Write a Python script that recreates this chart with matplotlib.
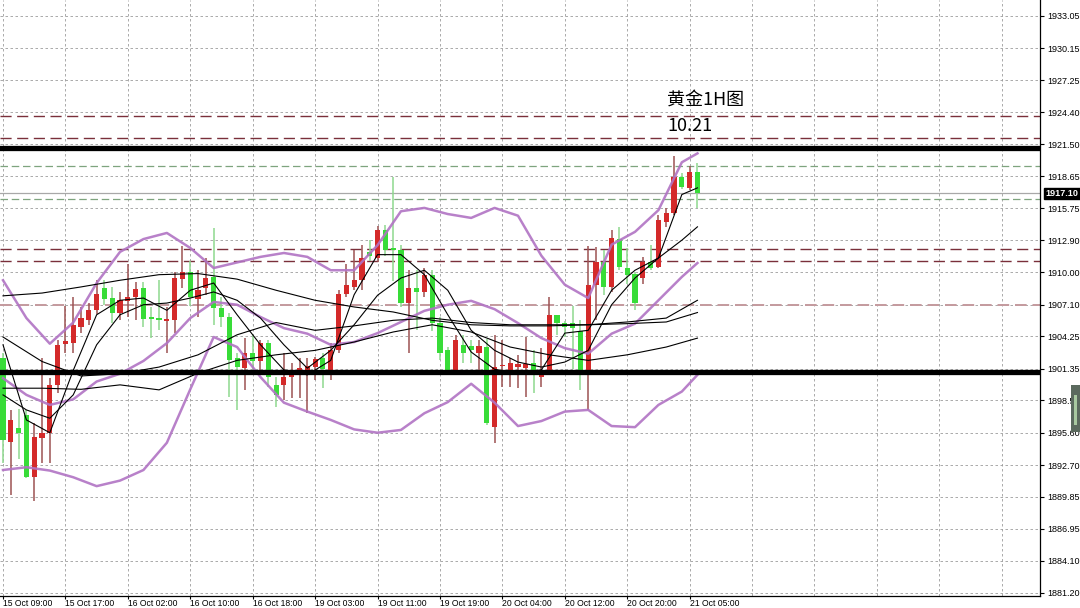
import matplotlib
matplotlib.use("Agg")
import matplotlib.pyplot as plt
from matplotlib.patches import Rectangle

# hourly candles, index 0 = 15 Oct 09:00
opens = [1902.3, 1894.8, 1896.0, 1897.2, 1891.6, 1895.1, 1895.6, 1899.9, 1903.6, 1903.7,
         1905.1, 1905.7, 1906.6, 1908.6, 1907.7, 1906.4, 1907.4, 1907.8, 1908.6, 1906.0,
         1905.9, 1905.6, 1905.7, 1909.4, 1910.0, 1907.6, 1908.6, 1909.6, 1906.8, 1906.0,
         1902.3, 1901.4, 1902.8, 1902.0, 1903.7, 1899.9, 1899.9, 1900.6, 1900.9, 1901.1,
         1901.5, 1902.3, 1901.2, 1903.0, 1908.1, 1908.7, 1909.3, 1911.8, 1911.3, 1913.8,
         1912.2, 1912.0, 1907.3, 1908.6, 1908.2, 1909.8, 1905.5, 1903.0, 1901.2, 1903.5,
         1903.4, 1902.8, 1903.3, 1896.1, 1901.6, 1901.2, 1901.5, 1901.4, 1901.9, 1900.6,
         1901.2, 1906.2, 1905.5, 1905.5, 1904.7, 1901.2, 1908.9, 1910.9, 1908.7, 1913.0,
         1910.4, 1909.9, 1909.5, 1910.9, 1910.5, 1914.5, 1915.3, 1918.6, 1917.6, 1919.0]
highs = [1902.8, 1897.6, 1897.7, 1897.6, 1896.5, 1902.3, 1900.5, 1903.9, 1907.0, 1907.8,
         1906.9, 1907.3, 1909.3, 1909.3, 1908.7, 1908.2, 1910.8, 1909.1, 1909.1, 1906.9,
         1909.3, 1906.9, 1910.0, 1912.4, 1911.0, 1910.2, 1911.3, 1914.0, 1907.8, 1906.4,
         1902.8, 1904.1, 1904.4, 1903.9, 1903.9, 1900.6, 1902.8, 1901.9, 1902.3, 1902.3,
         1902.4, 1902.8, 1903.7, 1908.4, 1910.8, 1912.0, 1912.5, 1912.9, 1914.2, 1914.3,
         1918.6, 1912.5, 1910.2, 1910.2, 1910.4, 1910.2, 1906.0, 1903.3, 1904.4, 1904.4,
         1903.9, 1903.9, 1904.0, 1904.4, 1903.9, 1902.3, 1902.6, 1904.2, 1903.0, 1903.2,
         1907.8, 1906.2, 1905.6, 1907.0, 1905.7, 1912.4, 1912.3, 1912.0, 1913.8, 1914.1,
         1912.2, 1910.0, 1911.4, 1912.5, 1915.2, 1915.8, 1920.5, 1918.9, 1919.6, 1919.8]
lows = [1892.9, 1890.0, 1893.2, 1891.5, 1889.5, 1892.9, 1892.9, 1899.2, 1902.8, 1902.8,
        1904.6, 1905.3, 1906.3, 1907.1, 1905.5, 1905.7, 1906.0, 1905.7, 1905.1, 1904.1,
        1904.8, 1902.8, 1904.6, 1908.6, 1907.0, 1906.0, 1908.0, 1905.3, 1905.1, 1898.8,
        1897.6, 1899.4, 1901.0, 1901.2, 1899.7, 1897.9, 1898.5, 1898.7, 1898.7, 1897.4,
        1900.3, 1899.6, 1900.3, 1902.8, 1907.8, 1908.4, 1908.4, 1911.0, 1910.9, 1911.5,
        1909.2, 1906.9, 1902.8, 1904.8, 1907.8, 1904.7, 1902.1, 1900.8, 1900.8, 1901.9,
        1901.9, 1900.9, 1896.3, 1894.7, 1899.7, 1899.7, 1899.6, 1898.8, 1899.2, 1899.7,
        1900.9, 1904.4, 1904.2, 1901.3, 1899.4, 1897.6, 1905.7, 1908.0, 1908.2, 1910.2,
        1909.0, 1906.6, 1909.0, 1910.2, 1910.4, 1914.1, 1915.2, 1917.5, 1917.4, 1915.8]
closes = [1894.95, 1896.7, 1895.6, 1891.6, 1895.2, 1895.6, 1899.9, 1903.5, 1903.8, 1905.3,
          1905.9, 1906.6, 1908.1, 1907.6, 1906.4, 1907.5, 1907.8, 1908.5, 1905.8, 1905.8,
          1905.7, 1905.8, 1909.5, 1910.0, 1907.8, 1908.4, 1909.5, 1906.8, 1906.0, 1902.1,
          1901.5, 1902.8, 1902.0, 1903.7, 1900.6, 1899.0, 1900.6, 1900.9, 1901.4, 1901.6,
          1902.2, 1901.3, 1903.0, 1908.1, 1908.9, 1909.3, 1911.3, 1911.5, 1913.8, 1912.0,
          1912.0, 1907.3, 1908.6, 1908.2, 1909.8, 1905.5, 1902.8, 1901.2, 1903.9, 1902.8,
          1903.0, 1903.4, 1896.5, 1901.5, 1901.7, 1901.9, 1901.8, 1901.8, 1901.2, 1901.2,
          1906.2, 1905.5, 1905.1, 1905.0, 1901.2, 1908.9, 1910.9, 1908.7, 1913.1, 1910.5,
          1909.8, 1907.3, 1910.9, 1910.4, 1914.7, 1915.3, 1918.6, 1917.7, 1919.0, 1917.1]

# Bollinger bands and fast MAs, read every 3 bars
line_idx = [0, 3, 6, 9, 12, 15, 18, 21, 24, 27, 30, 33, 36, 39, 42, 45,
            48, 51, 54, 57, 60, 63, 66, 69, 72, 75, 78, 81, 84, 87, 89]
bb_upper = [1909.3, 1905.9, 1903.6, 1905.5, 1909.05, 1911.85, 1913.0, 1913.55, 1912.2, 1910.4,
            1910.9, 1911.4, 1911.75, 1911.4, 1910.2, 1910.2, 1912.45, 1915.5, 1915.8, 1915.25,
            1914.9, 1915.8, 1915.1, 1911.5, 1908.9, 1907.7, 1912.5, 1913.65, 1915.6, 1919.9, 1920.7]
bb_mid = [1900.5, 1899.0, 1898.1, 1898.6, 1900.2, 1900.9, 1902.05, 1903.65, 1905.9, 1907.35,
          1907.1, 1906.0, 1905.0, 1904.5, 1903.5, 1903.75, 1904.55, 1905.55, 1906.55, 1907.1,
          1907.45, 1906.7, 1905.45, 1904.1, 1903.2, 1902.7, 1904.5, 1905.4, 1907.5, 1909.6, 1910.85]
bb_lower = [1892.25, 1892.5, 1892.2, 1891.6, 1890.8, 1891.3, 1892.25, 1894.7, 1899.5, 1904.2,
            1903.3, 1900.6, 1898.3, 1897.5, 1896.75, 1895.9, 1895.6, 1895.85, 1897.35, 1898.35,
            1900.0, 1898.3, 1896.2, 1896.65, 1897.5, 1897.65, 1896.2, 1896.1, 1898.1, 1899.3, 1900.8]
ma_fast = [1903.5, 1896.75, 1895.6, 1901.2, 1906.2, 1907.5, 1907.7, 1906.6, 1908.4, 1909.05,
           1906.2, 1903.5, 1901.25, 1900.8, 1902.1, 1908.0, 1911.6, 1911.6, 1909.8, 1906.2,
           1902.85, 1901.3, 1900.95, 1901.25, 1904.55, 1904.8, 1908.4, 1910.2, 1911.3, 1917.0, 1917.6]
ma_mid = [1899.0, 1897.65, 1896.9, 1899.0, 1903.5, 1906.2, 1907.1, 1907.25, 1907.7, 1908.25,
          1907.5, 1905.9, 1903.5, 1901.4, 1903.0, 1905.3, 1907.95, 1909.5, 1910.2, 1908.4,
          1904.8, 1903.0, 1901.95, 1901.5, 1901.95, 1903.0, 1907.1, 1909.5, 1911.3, 1912.9, 1914.1]

# slower MAs, read every 5 bars
slow_idx = [0, 5, 10, 15, 20, 25, 30, 35, 40, 45, 50, 55, 60, 65, 70, 75, 80, 85, 89]
ma_slow_a = [1907.9, 1908.15, 1908.7, 1909.3, 1909.8, 1909.9, 1909.4, 1908.4, 1907.5, 1906.9,
             1906.45, 1905.7, 1905.3, 1905.2, 1905.2, 1905.3, 1905.4, 1905.55, 1906.4]
ma_slow_b = [1904.2, 1902.0, 1900.7, 1900.9, 1901.5, 1902.6, 1904.4, 1905.5, 1904.8, 1905.2,
             1905.7, 1905.9, 1905.5, 1905.3, 1905.3, 1905.3, 1905.55, 1905.9, 1907.5]
ma_slow_c = [1899.6, 1899.6, 1899.5, 1899.9, 1899.45, 1900.95, 1902.1, 1902.6, 1903.0, 1903.75,
             1904.65, 1905.3, 1904.65, 1903.3, 1902.6, 1902.1, 1902.6, 1903.3, 1904.1]

thick_levels = [1921.2, 1901.05]
red_levels = [1924.05, 1922.1, 1912.1, 1911.0]
pink_levels = [1907.1]
green_levels = [1919.55, 1916.6]
last_price = 1917.10

x_tick_labels = ["15 Oct 09:00", "15 Oct 17:00", "16 Oct 02:00", "16 Oct 10:00",
                 "16 Oct 18:00", "19 Oct 03:00", "19 Oct 11:00", "19 Oct 19:00",
                 "20 Oct 04:00", "20 Oct 12:00", "20 Oct 20:00", "21 Oct 05:00"]
y_tick_labels = ["1881.20", "1884.10", "1886.95", "1889.85", "1892.70", "1895.60",
                 "1898.50", "1901.35", "1904.25", "1907.10", "1910.00", "1912.90",
                 "1915.75", "1918.65", "1921.50", "1924.40", "1927.25", "1930.15", "1933.05"]

W, H = 1080, 608
fig = plt.figure(figsize=(W / 100, H / 100), dpi=100)
fig.patch.set_facecolor("white")
ax = fig.add_axes([0, 12 / H, 1040 / W, 596 / H])
ax.set_xlim(-0.385, 132.9)
ax.set_ylim(1880.93, 1934.48)

grid_kw = dict(color="#9c9c9c", lw=0.6, linestyle=(0, (3, 3)), zorder=0)
for v in y_tick_labels:
    ax.axhline(float(v), **grid_kw)
for k in range(0, 133, 8):
    ax.axvline(k, **grid_kw)

# price levels
for lv in red_levels:
    ax.axhline(lv, color="#7a2f3a", lw=1.0, linestyle=(0, (8, 4)), zorder=1)
for lv in pink_levels:
    ax.axhline(lv, color="#c49a9e", lw=1.4, linestyle=(0, (6, 3)), zorder=1)
for lv in green_levels:
    ax.axhline(lv, color="#7ea47e", lw=0.9, linestyle=(0, (6, 3)), zorder=1)
ax.axhline(last_price, color="#a8a8a8", lw=0.9, zorder=1)

# candles (red = up, green = down)
for i in range(len(opens)):
    o, h, l, c = opens[i], highs[i], lows[i], closes[i]
    up = c >= o
    body_col = "#d42a2a" if up else "#38dc38"
    wick_col = "#9c5252" if up else "#8ed88e"
    ax.vlines(i, l, h, color=wick_col, lw=1.1, zorder=2)
    ax.bar(i, max(abs(c - o), 0.1), bottom=min(o, c), width=0.66,
           color=body_col, lw=0, zorder=3)

# indicators
for s in (bb_upper, bb_mid, bb_lower):
    ax.plot(line_idx, s, color="#b173c4", lw=1.8, zorder=4, alpha=0.9)
for s in (ma_fast, ma_mid):
    ax.plot(line_idx, s, color="black", lw=0.8, zorder=4)
for s in (ma_slow_a, ma_slow_b, ma_slow_c):
    ax.plot(slow_idx, s, color="black", lw=0.8, zorder=4)

for lv in thick_levels:
    ax.axhline(lv, color="black", lw=3.8, zorder=5)

# axes cosmetics
for side in ("top", "left"):
    ax.spines[side].set_visible(False)
ax.spines["right"].set_linewidth(0.9)
ax.spines["bottom"].set_linewidth(0.9)

ax.yaxis.tick_right()
ax.set_yticks([float(v) for v in y_tick_labels])
ax.set_yticklabels(y_tick_labels, fontsize=6.5, family="Liberation Sans")
ax.tick_params(axis="y", length=3, width=0.8, pad=2)

ax.set_xticks(list(range(0, 89, 8)))
ax.set_xticklabels(x_tick_labels, fontsize=6.2, family="Liberation Sans", ha="left")
ax.tick_params(axis="x", length=2, width=0.8, pad=0.5)

ax.annotate(f"{last_price:.2f}", xy=(1.0, last_price), xycoords=("axes fraction", "data"),
            xytext=(4, 0), textcoords="offset points", va="center", ha="left",
            fontsize=6.5, family="Liberation Sans", color="white", fontweight="bold",
            bbox=dict(boxstyle="square,pad=0.15", fc="black", ec="black"))

fig.text(667 / W, 1 - 100 / H, "黄金1H图", fontsize=13, va="center", ha="left",
         family=["Noto Sans CJK SC", "DejaVu Sans"])
fig.text(667 / W, 1 - 126 / H, "10.21", fontsize=13, va="center", ha="left",
         family=["Noto Sans CJK SC", "DejaVu Sans"])

# little scroll widget at the right edge
fig.add_artist(Rectangle((1071 / W, 1 - 432 / H), 9 / W, 47 / H,
                         transform=fig.transFigure, fc="#5b6a5e", ec="none"))
fig.add_artist(Rectangle((1074 / W, 1 - 425 / H), 3 / W, 30 / H,
                         transform=fig.transFigure, fc="#a8c9a0", ec="none"))

fig.savefig("out.png", dpi=100)
